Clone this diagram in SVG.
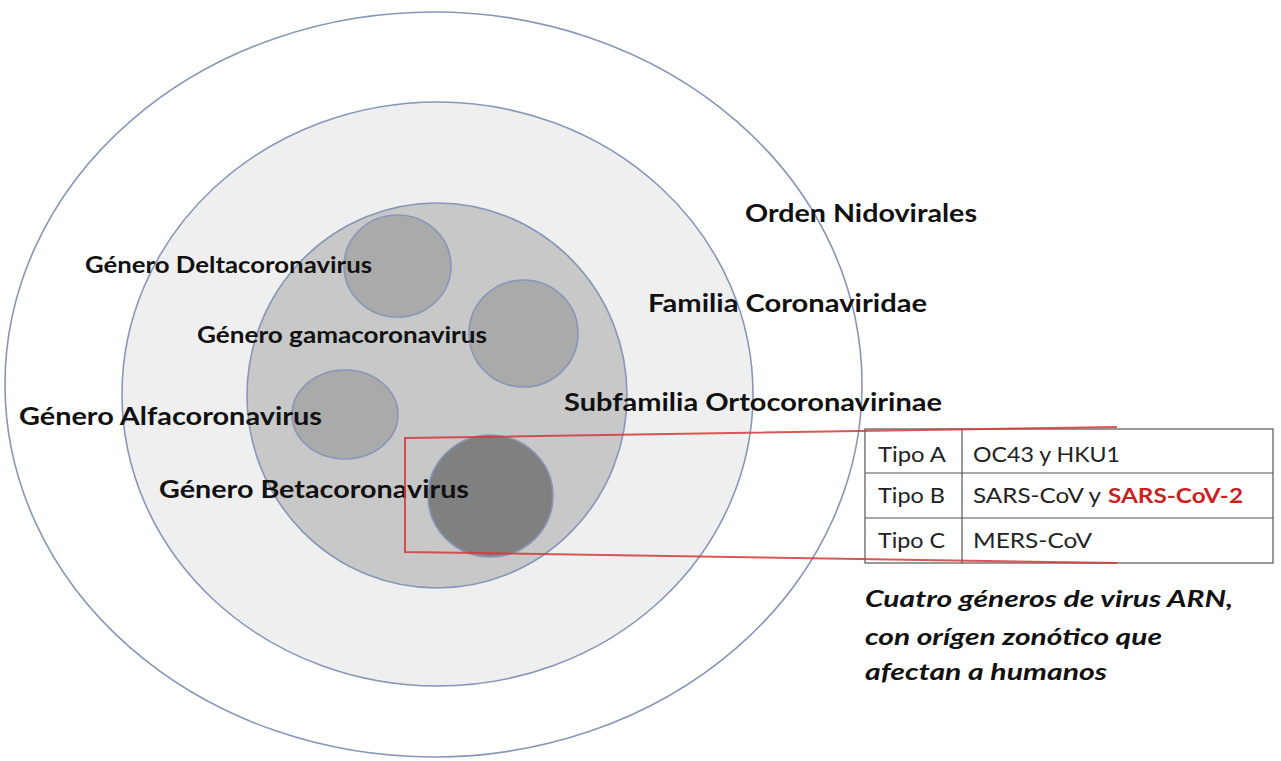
<svg xmlns="http://www.w3.org/2000/svg" width="1281" height="761" viewBox="0 0 1281 761">
<style>
.ring{stroke:#8a96b8;stroke-width:1.6}
.lbl{font-family:Lato,"Liberation Sans",sans-serif;font-weight:bold;fill:#111}
.big{font-size:24px}
.mid{font-size:22px}
.cell{font-family:Lato,"Liberation Sans",sans-serif;font-size:21px;fill:#222}
.red{fill:#cc1f1f;font-weight:bold}
.note{font-family:Lato,"Liberation Sans",sans-serif;font-size:23px;font-weight:bold;font-style:italic;fill:#111}
.grid{stroke:#555;stroke-width:1.2;fill:none}
</style>
<rect width="1281" height="761" fill="#ffffff"/>
<g id="orden"><ellipse class="ring" cx="433.5" cy="384.5" rx="428.5" ry="372.5" fill="#ffffff"/></g>
<g id="familia"><ellipse class="ring" cx="437.5" cy="394" rx="315.5" ry="292" fill="#efefef"/></g>
<g id="subfamilia"><ellipse class="ring" cx="437" cy="395.5" rx="190" ry="192.5" fill="#c8c8c8"/></g>
<g id="delta"><ellipse class="ring" cx="397.5" cy="266" rx="53.5" ry="51" fill="#aaaaaa"/></g>
<g id="gamma"><ellipse class="ring" cx="523.5" cy="333.5" rx="54.5" ry="53.5" fill="#aaaaaa"/></g>
<g id="alfa"><ellipse class="ring" cx="345" cy="414.5" rx="53" ry="44.5" fill="#aaaaaa"/></g>
<g id="beta"><ellipse class="ring" cx="490.5" cy="496" rx="62.5" ry="61" fill="#808080"/></g>
<g id="labels">
<text class="lbl big" x="745" y="222" textLength="232" lengthAdjust="spacingAndGlyphs">Orden Nidovirales</text>
<text class="lbl big" x="648" y="312" textLength="279" lengthAdjust="spacingAndGlyphs">Familia Coronaviridae</text>
<text class="lbl big" x="564" y="411" textLength="378" lengthAdjust="spacingAndGlyphs">Subfamilia Ortocoronavirinae</text>
<text class="lbl mid" x="85" y="273" textLength="287" lengthAdjust="spacingAndGlyphs">Género Deltacoronavirus</text>
<text class="lbl mid" x="197" y="343" textLength="290" lengthAdjust="spacingAndGlyphs">Género gamacoronavirus</text>
<text class="lbl big" x="19" y="425" textLength="303" lengthAdjust="spacingAndGlyphs">Género Alfacoronavirus</text>
<text class="lbl big" x="159" y="498" textLength="310" lengthAdjust="spacingAndGlyphs">Género Betacoronavirus</text>
</g>
<g id="table">
<rect class="grid" x="865" y="429" width="408" height="134" fill="#ffffff"/>
<line class="grid" x1="962" y1="429" x2="962" y2="563"/>
<line class="grid" x1="865" y1="473" x2="1273" y2="473"/>
<line class="grid" x1="865" y1="518" x2="1273" y2="518"/>
<text class="cell" x="878" y="462" textLength="68" lengthAdjust="spacingAndGlyphs">Tipo A</text>
<text class="cell" x="973" y="462" textLength="147" lengthAdjust="spacingAndGlyphs">OC43 y HKU1</text>
<text class="cell" x="878" y="503" textLength="67" lengthAdjust="spacingAndGlyphs">Tipo B</text>
<text class="cell" x="973" y="503" textLength="128" lengthAdjust="spacingAndGlyphs">SARS-CoV y</text>
<text class="cell red" x="1108" y="503" textLength="135" lengthAdjust="spacingAndGlyphs">SARS-CoV-2</text>
<text class="cell" x="878" y="548" textLength="67" lengthAdjust="spacingAndGlyphs">Tipo C</text>
<text class="cell" x="973" y="548" textLength="119" lengthAdjust="spacingAndGlyphs">MERS-CoV</text>
</g>
<g id="connectors">
<polyline points="1117,427 405,438 405,552 1117,563" fill="none" stroke="#d43a3a" stroke-opacity="0.85" stroke-width="2"/>
</g>
<g id="note">
<text class="note" x="865" y="607" textLength="368" lengthAdjust="spacingAndGlyphs">Cuatro géneros de virus ARN,</text>
<text class="note" x="865" y="645" textLength="297" lengthAdjust="spacingAndGlyphs">con orígen zonótico que</text>
<text class="note" x="865" y="680" textLength="242" lengthAdjust="spacingAndGlyphs">afectan a humanos</text>
</g>
</svg>
